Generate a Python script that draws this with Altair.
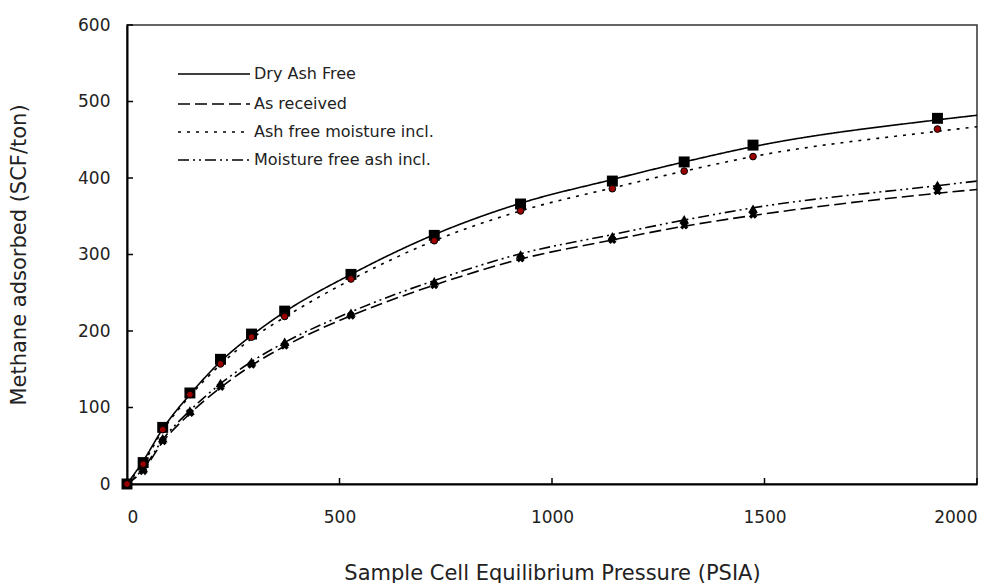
import altair as alt
import pandas as pd

# ---- data ----
series_names = ["Dry Ash Free", "As received", "Ash free moisture incl.", "Moisture free ash incl."]

pressure = [0, 38, 84, 148, 220, 293, 371, 527, 723, 926, 1142, 1311, 1473, 1907]
dry_ash_free = [0, 28, 74, 119, 163, 196, 226, 274, 325, 366, 396, 421, 443, 478]
as_received = [0, 17, 56, 93, 127, 156, 181, 220, 260, 295, 319, 338, 352, 383]
ash_free_moist = [0, 26, 71, 117, 157, 192, 219, 268, 318, 357, 386, 409, 428, 464]
moist_free_ash = [0, 21, 60, 96, 132, 160, 186, 224, 265, 300, 324, 346, 360, 391]

curve_pressure = [0, 38, 84, 148, 220, 293, 371, 527, 723, 926, 1142, 1311, 1473, 1907, 2000]
daf_curve = [0, 30, 72, 117, 160, 194, 225, 274, 326, 367, 398, 421, 441, 476, 482]
ar_curve = [0, 18, 55, 92, 126, 155, 180, 220, 260, 294, 319, 337, 351, 380, 385]
afmi_curve = [0, 27, 70, 115, 156, 190, 218, 267, 318, 357, 387, 409, 428, 461, 467]
mfai_curve = [0, 20, 58, 96, 131, 160, 185, 225, 266, 301, 326, 345, 361, 390, 396]

x_ticks = [0, 500, 1000, 1500, 2000]
y_ticks = [0, 100, 200, 300, 400, 500, 600]

# ---- styling ----
W, H = 850, 459
FONT = "DejaVu Sans"
dashes = [[1, 0], [12, 5], [3, 6], [11, 4, 2, 4, 2, 4]]

curves = pd.DataFrame({
    "P": curve_pressure * 4,
    "V": daf_curve + ar_curve + afmi_curve + mfai_curve,
    "series": sum([[n] * len(curve_pressure) for n in series_names], []),
})

def pts(vals):
    return pd.DataFrame({"P": pressure, "V": vals})

xs = alt.Scale(domain=[0, 2000], nice=False, zero=False)
ys = alt.Scale(domain=[0, 600], nice=False, zero=False)

x_enc = alt.X("P:Q", scale=xs, axis=alt.Axis(
    values=x_ticks, format="d", ticks=False, grid=False, domainColor="black", domainWidth=2,
    labelFont=FONT, labelFontSize=17, labelColor="#222", labelPadding=25,
    title="Sample Cell Equilibrium Pressure (PSIA)", titleFont=FONT, titleFontSize=21,
    titleFontWeight="normal", titleColor="#222", titleY=89, titleBaseline="middle"))
y_enc = alt.Y("V:Q", scale=ys, axis=alt.Axis(
    values=y_ticks, format="d", ticks=False, grid=False, domainColor="black", domainWidth=2,
    labelFont=FONT, labelFontSize=17, labelColor="#222", labelPadding=17,
    title="Methane adsorbed (SCF/ton)", titleFont=FONT, titleFontSize=21,
    titleFontWeight="normal", titleColor="#222", titleX=-108, titleBaseline="middle"))

lines = alt.Chart(curves).mark_line(color="black", strokeWidth=1.6, interpolate="monotone").encode(
    x=x_enc, y=y_enc,
    strokeDash=alt.StrokeDash("series:N", scale=alt.Scale(domain=series_names, range=dashes), legend=None),
    detail="series:N",
)

ar_pts = alt.Chart(pts(as_received)).mark_point(
    shape="cross", angle=45, filled=True, color="black", size=70, opacity=1
).encode(x="P:Q", y="V:Q")
mfai_pts = alt.Chart(pts(moist_free_ash)).mark_point(
    shape="triangle-up", filled=True, color="black", size=95, opacity=1
).encode(x="P:Q", y="V:Q")
daf_pts = alt.Chart(pts(dry_ash_free)).mark_point(
    shape="square", filled=True, color="black", size=120, opacity=1
).encode(x="P:Q", y="V:Q")
afmi_pts = alt.Chart(pts(ash_free_moist)).mark_point(
    shape="circle", filled=True, fill="#9a0000", stroke="black", strokeWidth=1, size=45, opacity=1
).encode(x="P:Q", y="V:Q")

# inward tick marks
xt = alt.Chart(pd.DataFrame({"P": x_ticks})).mark_rule(color="black", strokeWidth=1.5).encode(
    x="P:Q", y=alt.value(H), y2=alt.value(H - 6))
yt = alt.Chart(pd.DataFrame({"V": y_ticks})).mark_rule(color="black", strokeWidth=1.5).encode(
    y="V:Q", x=alt.value(0), x2=alt.value(6))

# manual legend (lines + labels, no markers)
legend_layers = []
row_y = [49, 79, 107, 135]
for name, dash, ry in zip(series_names, dashes, row_y):
    d = pd.DataFrame({"label": [name]})
    legend_layers.append(alt.Chart(d).mark_rule(color="black", strokeWidth=1.6, strokeDash=dash).encode(
        x=alt.value(51), x2=alt.value(123), y=alt.value(ry)))
    legend_layers.append(alt.Chart(d).mark_text(
        align="left", baseline="middle", font=FONT, fontSize=16, color="#222").encode(
        x=alt.value(127), y=alt.value(ry), text="label:N"))

chart = alt.layer(
    lines, xt, yt, ar_pts, mfai_pts, daf_pts, afmi_pts, *legend_layers
).properties(
    width=W, height=H,
    autosize=alt.AutoSizeParams(type="none"),
    padding={"left": 119, "top": 17, "right": 15, "bottom": 99},
    background="white",
).configure_view(stroke="#333", strokeWidth=1.5)

chart.save("out.html", embed_options={"renderer": "svg", "actions": False})
